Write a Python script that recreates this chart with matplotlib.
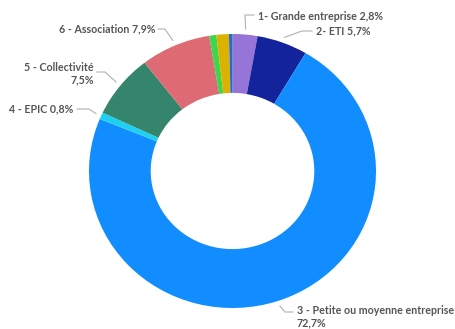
import matplotlib.pyplot as plt
import numpy as np

# share of each category, clockwise from the top
labels = ['1- Grande entreprise', '2- ETI', '3 - Petite ou moyenne entreprise',
          '4 - EPIC', '5 - Collectivité', '6 - Association', 'autre 1', 'autre 2', 'autre 3']
values = [2.8, 5.7, 72.7, 0.8, 7.5, 7.9, 0.8, 1.4, 0.4]
pct_text = ['2,8%', '5,7%', '72,7%', '0,8%', '7,5%', '7,9%', None, None, None]
colors = ['#9674D8', '#13239C', '#118DFF', '#1CD1F2', '#34856C',
          '#DE6A73', '#3DD64D', '#DDB100', '#2A6BC8']

W, H = 456, 329
CX, CY, RX, RY = 232.5, 171, 143.5, 137

fig = plt.figure(figsize=(W / 100, H / 100), dpi=100)
ax = fig.add_axes([(CX - RX) / W, (H - CY - RY) / H, 2 * RX / W, 2 * RY / H])
wedges, _ = ax.pie(values, colors=colors, startangle=90, counterclock=False,
                   radius=1, wedgeprops=dict(width=0.43, linewidth=0))
ax.set_aspect('auto')
ax.set_xlim(-1, 1)
ax.set_ylim(-1, 1)
ax.axis('off')


def px(x, y):
    # figure pixel (from top left) -> data coords
    return (x - CX) / RX, (CY - y) / RY


# label layout: text anchor, elbow, line end, alignment (pixels)
layout = {
    0: dict(text=(258, 16), elbow=(245, 15), end=(254, 15), ha='left', two=False),
    1: dict(text=(316, 31), elbow=(302, 31), end=(312, 31), ha='left', two=False),
    2: dict(text=(297, 317), elbow=(285, 312), end=(293, 312), ha='left', two=True),
    3: dict(text=(73, 109), elbow=(89, 109), end=(77, 109), ha='right', two=False),
    4: dict(text=(94, 74), elbow=(105, 72), end=(97, 72), ha='right', two=True),
    5: dict(text=(155, 29), elbow=(165, 29), end=(158, 29), ha='right', two=False),
}

gray = '#555555'
for i, lay in layout.items():
    w = wedges[i]
    mid = np.deg2rad((w.theta1 + w.theta2) / 2)
    a = (1.04 * np.cos(mid), 1.04 * np.sin(mid))
    e = px(*lay['elbow'])
    t = px(*lay['end'])
    ax.plot([a[0], e[0], t[0]], [a[1], e[1], t[1]], color='#b0b0b0', lw=0.8,
            clip_on=False)
    if lay['two']:
        s = labels[i] + '\n' + pct_text[i]
    else:
        s = labels[i] + ' ' + pct_text[i]
    tx, ty = px(*lay['text'])
    ax.text(tx, ty, s, ha=lay['ha'], va='center', multialignment=lay['ha'],
            fontsize=7.7, color=gray, fontfamily='Lato', fontweight='bold',
            linespacing=1.15, clip_on=False)

fig.savefig('out.png', dpi=100, facecolor='white')
